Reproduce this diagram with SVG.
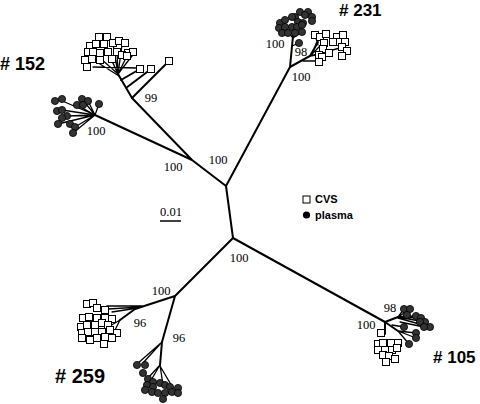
<svg xmlns="http://www.w3.org/2000/svg" xmlns:xlink="http://www.w3.org/1999/xlink" width="480" height="404" viewBox="0 0 480 404">
<style>
.br{stroke:#000;stroke-width:2;fill:none;stroke-linecap:round}
.tw{stroke:#000;stroke-width:1.3;fill:none;stroke-linecap:round}
.bs{font-family:"Liberation Serif",serif;font-size:12.5px;text-anchor:middle;fill:#000}
.lab{font-family:"Liberation Sans",sans-serif;font-weight:bold;fill:#000}
.leg{font-family:"Liberation Sans",sans-serif;font-weight:bold;font-size:11px;fill:#000}
</style>
<defs>
<rect id="s" x="-3.5" y="-3.5" width="7" height="7" fill="#fff" stroke="#000" stroke-width="1"/>
<circle id="c" r="3.6" fill="#333" stroke="#000" stroke-width="0.8"/>
</defs>
<rect width="480" height="404" fill="#fff"/>

<g id="connectors">
<path class="br" d="M226 186 L233 238 M226 186 L192 160 M192 160 L132 98 M192 160 L95 115 M226 186 L290 67 M233 238 L175 296 M233 238 L385 322"/>
</g>

<g id="bootstrap">
<text class="bs" x="151" y="102">99</text>
<text class="bs" x="96" y="135">100</text>
<text class="bs" x="173" y="171">100</text>
<text class="bs" x="218" y="164">100</text>
<text class="bs" x="275" y="48">100</text>
<text class="bs" x="301" y="56">98</text>
<text class="bs" x="301" y="81">100</text>
<text class="bs" x="239" y="262">100</text>
<text class="bs" x="161" y="295">100</text>
<text class="bs" x="140" y="327">96</text>
<text class="bs" x="179" y="342">96</text>
<text class="bs" x="390" y="312">98</text>
<text class="bs" x="366" y="329">100</text>
</g>

<g id="clade152-cvs">
<path class="br" d="M132 98 L118 74 M132 98 L169 61 M126 88 L151 69 M121 80 L140 69"/>
<path class="tw" d="M93 67 L137 68 M118 74 L100 58 M118 74 L108 52 M118 74 L104 44 M118 74 L113 44 M118 74 L122 45 M118 74 L127 56 M118 74 L135 52 M119 76 L92 59 M118 74 L117 52"/>
<use href="#s" x="99" y="37"/><use href="#s" x="107" y="37"/><use href="#s" x="90" y="46"/><use href="#s" x="96" y="44"/><use href="#s" x="104" y="44"/><use href="#s" x="113" y="43"/><use href="#s" x="119" y="41"/><use href="#s" x="125" y="43"/><use href="#s" x="88" y="52"/><use href="#s" x="93" y="52"/><use href="#s" x="100" y="53"/><use href="#s" x="108" y="52"/><use href="#s" x="117" y="52"/><use href="#s" x="128" y="53"/><use href="#s" x="133" y="52"/><use href="#s" x="85" y="60"/><use href="#s" x="92" y="59"/><use href="#s" x="100" y="60"/><use href="#s" x="112" y="59"/><use href="#s" x="122" y="55"/><use href="#s" x="127" y="56"/><use href="#s" x="87" y="67"/><use href="#s" x="140" y="69"/><use href="#s" x="151" y="69"/><use href="#s" x="169" y="61"/>
</g>

<g id="clade152-plasma">
<path class="tw" d="M95 115 L60 100 M95 115 L82 99 M95 115 L99 104 M95 115 L88 101 M95 115 L62 110 M95 115 L67 116 M95 115 L75 127 M95 115 L73 133 M95 115 L58 124 M95 115 L77 105"/>
<use href="#c" x="55" y="101"/><use href="#c" x="62" y="99"/><use href="#c" x="82" y="99"/><use href="#c" x="88" y="101"/><use href="#c" x="99" y="104"/><use href="#c" x="77" y="105"/><use href="#c" x="83" y="105"/><use href="#c" x="57" y="111"/><use href="#c" x="62" y="110"/><use href="#c" x="67" y="116"/><use href="#c" x="62" y="118"/><use href="#c" x="58" y="124"/><use href="#c" x="70" y="124"/><use href="#c" x="75" y="127"/><use href="#c" x="73" y="133"/>
</g>

<g id="clade231">
<path class="br" d="M290 67 L293 36 M290 67 L310 56 L318 42"/>
<path class="tw" d="M293 38 L285 28 M293 38 L292 27 M293 38 L298 25 M293 38 L302 32 M293 38 L288 32 M292 46 L299 43 M303 61 L318 61 M310 56 L340 48 M310 56 L323 43 M313 52 L319 36 M318 45 L315 35 M310 56 L329 53"/>
<use href="#c" x="300" y="12"/><use href="#c" x="308" y="12"/><use href="#c" x="295" y="17"/><use href="#c" x="305" y="15"/><use href="#c" x="312" y="17"/><use href="#c" x="280" y="23"/><use href="#c" x="285" y="20"/><use href="#c" x="292" y="17"/><use href="#c" x="298" y="22"/><use href="#c" x="303" y="23"/><use href="#c" x="312" y="21"/><use href="#c" x="279" y="28"/><use href="#c" x="285" y="27"/><use href="#c" x="292" y="27"/><use href="#c" x="297" y="27"/><use href="#c" x="302" y="25"/><use href="#c" x="282" y="33"/><use href="#c" x="288" y="33"/><use href="#c" x="295" y="33"/><use href="#c" x="302" y="32"/><use href="#c" x="299" y="43"/>
<use href="#s" x="315" y="35"/><use href="#s" x="320" y="37"/><use href="#s" x="326" y="34"/><use href="#s" x="337" y="37"/><use href="#s" x="343" y="35"/><use href="#s" x="324" y="43"/><use href="#s" x="333" y="42"/><use href="#s" x="340" y="42"/><use href="#s" x="345" y="42"/><use href="#s" x="323" y="49"/><use href="#s" x="329" y="53"/><use href="#s" x="342" y="47"/><use href="#s" x="347" y="51"/><use href="#s" x="319" y="55"/><use href="#s" x="322" y="57"/><use href="#s" x="342" y="56"/><use href="#s" x="319" y="62"/>
</g>

<g id="clade259">
<path class="br" d="M175 296 L135 309 M175 296 L162 342 L160 365 M135 309 L120 320"/>
<path class="tw" d="M142 306 L107 306 M141 307 L108 309 M138 308 L112 312 M120 320 L110 326 M120 320 L115 330 M162 342 L143 363 M162 342 L137 364 M160 365 L150 382 M160 365 L163 385 M160 366 L173 388 M160 365 L148 378"/>
<use href="#s" x="87" y="304"/><use href="#s" x="93" y="303"/><use href="#s" x="97" y="308"/><use href="#s" x="105" y="310"/><use href="#s" x="83" y="318"/><use href="#s" x="89" y="317"/><use href="#s" x="97" y="318"/><use href="#s" x="105" y="318"/><use href="#s" x="112" y="319"/><use href="#s" x="81" y="327"/><use href="#s" x="87" y="325"/><use href="#s" x="95" y="325"/><use href="#s" x="102" y="323"/><use href="#s" x="108" y="325"/><use href="#s" x="82" y="333"/><use href="#s" x="88" y="332"/><use href="#s" x="95" y="332"/><use href="#s" x="102" y="332"/><use href="#s" x="110" y="330"/><use href="#s" x="117" y="333"/><use href="#s" x="82" y="338"/><use href="#s" x="90" y="340"/><use href="#s" x="97" y="338"/><use href="#s" x="105" y="337"/><use href="#s" x="112" y="338"/><use href="#s" x="104" y="344"/>
<use href="#c" x="137" y="365"/><use href="#c" x="145" y="365"/><use href="#c" x="143" y="373"/><use href="#c" x="148" y="379"/><use href="#c" x="153" y="382"/><use href="#c" x="147" y="385"/><use href="#c" x="153" y="387"/><use href="#c" x="160" y="383"/><use href="#c" x="165" y="385"/><use href="#c" x="170" y="387"/><use href="#c" x="178" y="388"/><use href="#c" x="145" y="390"/><use href="#c" x="152" y="392"/><use href="#c" x="158" y="393"/><use href="#c" x="165" y="393"/><use href="#c" x="172" y="392"/><use href="#c" x="178" y="393"/><use href="#c" x="163" y="399"/>
</g>

<g id="clade105">
<path class="br" d="M385 322 L385 334 M385 322 L398 317 M385 322 L398 331"/>
<path class="tw" d="M398 317 L404 309 M398 317 L410 309 M398 317 L407 316 M398 317 L416 316 M398 317 L421 318 M398 317 L425 322 M398 318 L430 327 M392 325 L404 327 M398 331 L416 333 M398 331 L416 338 M398 331 L409 344 M400 322 L424 327"/>
<use href="#c" x="404" y="309"/><use href="#c" x="410" y="309"/><use href="#c" x="407" y="315"/><use href="#c" x="416" y="316"/><use href="#c" x="421" y="318"/><use href="#c" x="425" y="322"/><use href="#c" x="420" y="322"/><use href="#c" x="430" y="327"/><use href="#c" x="424" y="327"/><use href="#c" x="404" y="327"/><use href="#c" x="416" y="333"/><use href="#c" x="416" y="338"/><use href="#c" x="409" y="344"/>
<use href="#s" x="381" y="333"/><use href="#s" x="378" y="344"/><use href="#s" x="383" y="343"/><use href="#s" x="391" y="343"/><use href="#s" x="398" y="343"/><use href="#s" x="378" y="350"/><use href="#s" x="385" y="350"/><use href="#s" x="392" y="350"/><use href="#s" x="397" y="348"/><use href="#s" x="383" y="355"/><use href="#s" x="389" y="356"/><use href="#s" x="395" y="359"/><use href="#s" x="386" y="362"/>
</g>

<g id="labels">
<text class="lab" x="0" y="70" font-size="18">#  152</text>
<text class="lab" x="339" y="16" font-size="17">#  231</text>
<text class="lab" x="55" y="383" font-size="20">#  259</text>
<text class="lab" x="433" y="363" font-size="17">#  105</text>
</g>

<g id="legend">
<rect x="303" y="196" width="7" height="7" fill="#fff" stroke="#000" stroke-width="1"/>
<text class="leg" x="315" y="203">CVS</text>
<circle cx="306.5" cy="215" r="3.6" fill="#000"/>
<text class="leg" x="315" y="219">plasma</text>
</g>

<g id="scalebar">
<text class="bs" x="171" y="216" font-size="11.5">0.01</text>
<line x1="160" y1="221" x2="181" y2="221" stroke="#000" stroke-width="1.5"/>
</g>
</svg>
